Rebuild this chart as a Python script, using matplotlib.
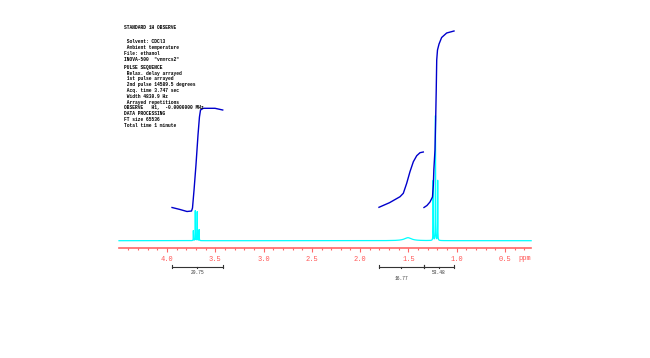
import numpy as np
import matplotlib.pyplot as plt
from matplotlib.ticker import FixedLocator, FormatStrFormatter

# 1H spectrum of ethanol in CDCl3: peak list
peak_ppm = [3.727, 3.707, 3.687, 3.667, 1.505, 1.244, 1.220, 1.197]
peak_height = [10, 30, 29, 11, 3, 60, 125, 60]
peak_width = [0.0012, 0.0012, 0.0012, 0.0012, 0.045, 0.0012, 0.0012, 0.0012]

# integral traces (ppm, height)
int1_ppm = [3.948, 3.865, 3.793, 3.746, 3.736, 3.720, 3.700, 3.679, 3.664, 3.653, 3.624, 3.503, 3.423]
int1_val = [33.2, 31.2, 29.2, 29.7, 32.7, 50.7, 75.7, 105.7, 123.7, 130.7, 132.4, 132.4, 130.7]
int2_ppm = [1.805, 1.696, 1.587, 1.553, 1.518, 1.484, 1.449, 1.414, 1.380, 1.346]
int2_val = [33.4, 38.0, 44.0, 47.4, 57.4, 69.0, 79.0, 85.0, 88.0, 88.7]
int3_ppm = [1.339, 1.308, 1.277, 1.251, 1.242, 1.237, 1.225, 1.218, 1.212, 1.207,
            1.199, 1.183, 1.156, 1.104, 1.028]
int3_val = [33.2, 35.2, 38.7, 43.7, 55.7, 70.7, 90.7, 120.7, 150.7, 180.7,
            190.7, 196.7, 203.2, 207.7, 209.7]

# integral regions and values
region_start = [3.948, 1.805, 1.339]
region_end = [3.423, 1.339, 1.028]
region_value = ['29.75', '16.77', '53.48']

major_ticks = [4.0, 3.5, 3.0, 2.5, 2.0, 1.5, 1.0, 0.5]

header = [
    "STANDARD 1H OBSERVE",
]
params = [
    " Solvent: CDCl3",
    " Ambient temperature",
    "File: ethanol",
    'INOVA-500  "vnmrcs2"',
]
params2 = [
    "PULSE SEQUENCE",
    " Relax. delay arrayed",
    " 1st pulse arrayed",
    " 2nd pulse 14589.5 degrees",
    " Acq. time 3.747 sec",
    " Width 4830.9 Hz",
    " Arrayed repetitions",
    "OBSERVE   H1,  -0.0000000 MHz",
    "DATA PROCESSING",
    "FT size 65536",
    "Total time 1 minute",
]

ppm_lo, ppm_hi = 0.229, 4.497
px_per_ppm = 96.57

fig = plt.figure(figsize=(6.5, 3.58), dpi=100)
ax = fig.add_axes([0, 0, 1, 1])
# map axes so 1 data unit in y = 1 pixel, x in ppm
ax.set_xlim(4.0 + 167 / px_per_ppm, 4.0 - 483 / px_per_ppm)
ax.set_ylim(240.7 - 358, 240.7)

# spectrum
x = np.linspace(ppm_hi, ppm_lo, 30000)
y = np.zeros_like(x)
for p, h, w in zip(peak_ppm, peak_height, peak_width):
    y += h / (1 + ((x - p) / w) ** 2)
ax.plot(x, y, color='#00ffff', lw=0.9, zorder=2)

# integrals
for xs, ys in [(int1_ppm, int1_val), (int2_ppm, int2_val), (int3_ppm, int3_val)]:
    ax.plot(xs, ys, color='#0000cc', lw=1.0, zorder=3)

# ppm axis
for s in ['top', 'left', 'right']:
    ax.spines[s].set_visible(False)
ax.spines['bottom'].set_position(('data', -7.3))
ax.spines['bottom'].set_bounds(ppm_hi, ppm_lo)
ax.spines['bottom'].set_color('#ff6666')
ax.spines['bottom'].set_linewidth(1.2)
ax.set_yticks([])
ax.xaxis.set_major_locator(FixedLocator(major_ticks))
ax.xaxis.set_minor_locator(FixedLocator(np.round(np.arange(0.3, 4.45, 0.1), 1)))
ax.xaxis.set_major_formatter(FormatStrFormatter('%.1f'))
ax.tick_params(axis='x', which='major', direction='out', length=3.2, width=0.8,
               color='#ff6666', labelcolor='#ff5555', labelsize=5, pad=2.5)
ax.tick_params(axis='x', which='minor', direction='out', length=1.5, width=0.8,
               color='#ff6666')
for lab in ax.get_xticklabels():
    lab.set_family('Liberation Mono')
ax.text(0.30, -18.3, 'ppm', color='#ff5555', fontsize=5, family='Liberation Mono',
        ha='center', va='center')

# integral brackets
by = -25.8
ax.plot([region_start[0], region_end[0]], [by, by], color='#333333', lw=0.8)
ax.plot([region_start[1], region_end[2]], [by, by], color='#333333', lw=0.8)
for i, (a, b, v) in enumerate(zip(region_start, region_end, region_value)):
    mid = (a + b) / 2
    for e in (a, b):
        ax.plot([e, e], [by - 1.5, by + 1.5], color='#333333', lw=0.8)
    ax.plot([mid, mid], [by, by - 1.8], color='#333333', lw=0.8)
    ly = -38.3 if i == 1 else -32.3
    ax.text(mid, ly, v, fontsize=3.3, family='Liberation Mono', color='#333333',
            ha='center', va='center')

# parameter text block
tx = 4.0 + (167 - 124) / px_per_ppm
ax.text(tx, 240.7 - 27.7, header[0], fontsize=3.3, family='Liberation Mono',
        fontweight='bold', va='center', ha='left')
for k, line in enumerate(params):
    ax.text(tx, 240.7 - (41.7 + 5.9 * k), line, fontsize=3.3, family='Liberation Mono',
            fontweight='bold', va='center', ha='left')
for k, line in enumerate(params2):
    ax.text(tx, 240.7 - (67.3 + 5.8 * k), line, fontsize=3.3, family='Liberation Mono',
            fontweight='bold', va='center', ha='left')

fig.savefig('out.png', dpi=100)
